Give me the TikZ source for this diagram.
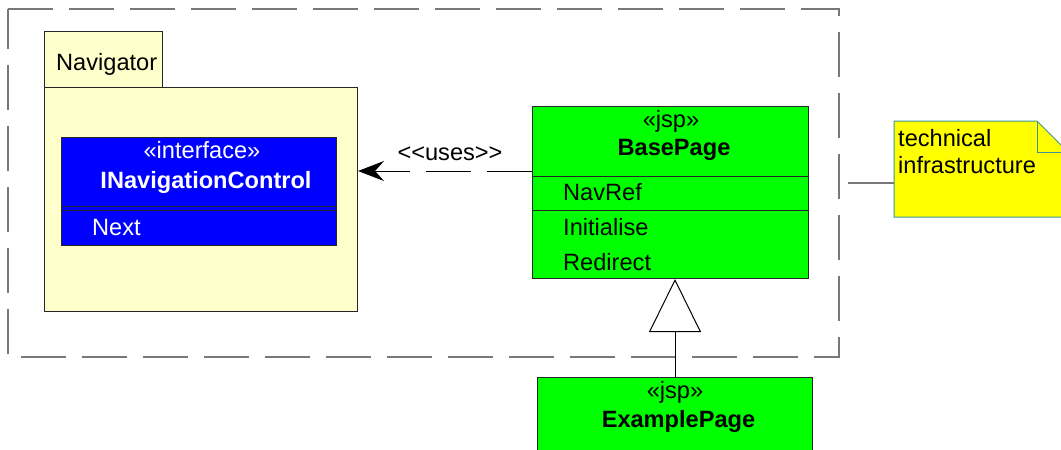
\documentclass[tikz,border=0pt]{standalone}
\usepackage{fontspec}
\setmainfont{Liberation Sans}
\usetikzlibrary{arrows.meta}
\definecolor{pkgfill}{RGB}{255,255,204}
\definecolor{ifblue}{RGB}{0,0,255}
\definecolor{jspgreen}{RGB}{0,255,0}
\definecolor{noteyellow}{RGB}{255,255,0}
\definecolor{noteedge}{RGB}{60,150,150}
\definecolor{framegray}{RGB}{120,120,120}
\begin{document}
\begin{tikzpicture}[x=1pt, y=-1pt,
  font=\fontsize{23.6}{28}\selectfont,
  box/.style={draw=black!85, line width=1pt, inner sep=0pt, anchor=north west},
  lbl/.style={anchor=base, inner sep=0pt},
  lblw/.style={anchor=base west, inner sep=0pt},
  bold/.style={font=\fontsize{23.6}{28}\selectfont\bfseries},
  longdash/.style={dash pattern=on 45pt off 16pt}]
\useasboundingbox (0,0) rectangle (1061,450);
\clip (0,0) rectangle (1061,450);

% subsystem boundary
\draw[framegray, line width=1.3pt, longdash] (8,9) -- (839,9) -- (839,357) -- (8,357) -- cycle;

% Navigator package
\node[box, fill=pkgfill, minimum width=118pt, minimum height=56pt] (navtab) at (44,31) {};
\node[box, fill=pkgfill, minimum width=313pt, minimum height=224pt] (nav) at (44,87) {};
\node[lblw] (navname) at (56,70) {Navigator};

% interface INavigationControl
\node[box, fill=ifblue, minimum width=275pt, minimum height=108pt] (inav) at (61,137) {};
\draw[black!85, line width=1pt] (61,206.5) -- (336,206.5);
\draw[black!85, line width=1pt] (61,210.7) -- (336,210.7);
\node[lbl, white] (inavst) at (202,158) {«interface»};
\node[lbl, white, bold] (inavname) at (206,188) {INavigationControl};
\node[lblw, white] (inavop) at (92,235) {Next};

% class BasePage
\node[box, fill=jspgreen, minimum width=276pt, minimum height=172pt] (base) at (532,106) {};
\draw[black!85, line width=1pt] (532,176) -- (808,176);
\draw[black!85, line width=1pt] (532,210) -- (808,210);
\node[lbl] (basest) at (671,127) {«jsp»};
\node[lbl, bold] (basename) at (674,155) {BasePage};
\node[lblw] (baseattr) at (563,200) {NavRef};
\node[lblw] (baseop1) at (563,235) {Initialise};
\node[lblw] (baseop2) at (563,270) {Redirect};

% class ExamplePage
\node[box, fill=jspgreen, minimum width=275pt, minimum height=90pt] (expage) at (537,377) {};
\node[lbl] (expst) at (675,398) {«jsp»};
\node[lbl, bold] (expname) at (678.5,427) {ExamplePage};

% dependency <<uses>>
\draw[black, line width=1pt, longdash, -{Stealth[length=26pt, width=20pt, inset=9pt]}]
  (base.west |- 0,171) -- (nav.east |- 0,171);
\node[lbl] (useslbl) at (450,160) {{<}{<}uses{>}{>}};

% generalization
\draw[black, line width=1pt, -{Triangle[length=53pt, width=52pt, fill=white]}]
  (expage.north) -- (expage.north |- base.south);

% note
\node[inner sep=0pt, minimum width=174pt, minimum height=96pt, anchor=north west] (note) at (894,121) {};
\draw[noteedge, line width=1pt, fill=noteyellow]
  (894,121) -- (1037,121) -- (1068,152) -- (1068,217) -- (894,217) -- cycle;
\draw[noteedge, line width=1pt] (1037,121) -- (1037,152) -- (1068,152);
\node[lblw] (notel1) at (898,146) {technical};
\node[lblw] (notel2) at (898,173) {infrastructure};
\coordinate (anchorend) at (848,183);
\draw[framegray, line width=1.3pt] (anchorend) -- (note.west |- 0,183);
\end{tikzpicture}
\end{document}
